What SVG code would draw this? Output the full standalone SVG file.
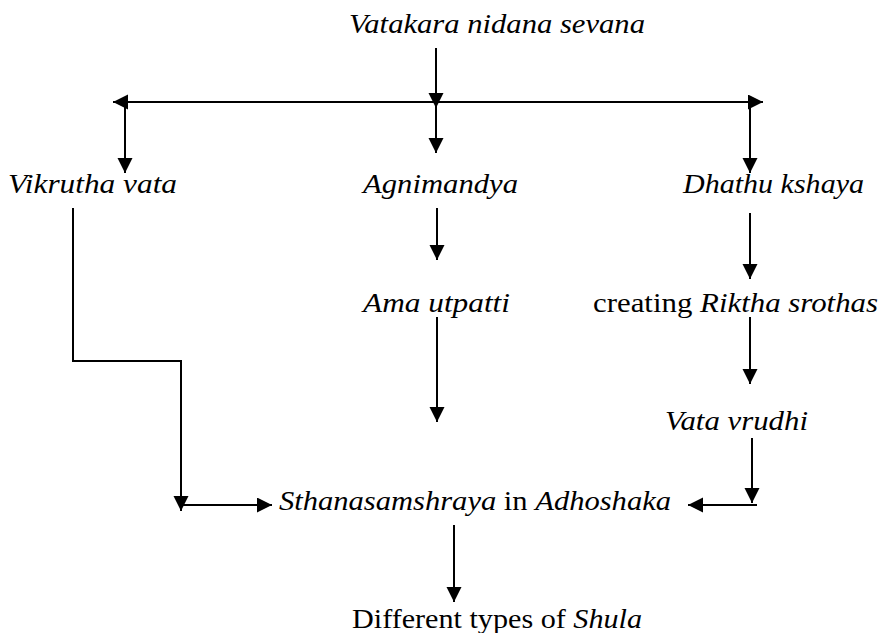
<svg xmlns="http://www.w3.org/2000/svg" width="882" height="633" viewBox="0 0 882 633">
<style>
text{font-family:"Liberation Serif","DejaVu Serif",serif;font-size:28px;fill:#000}
.i{font-style:italic}
.c{fill:none;stroke:#000;stroke-width:2}
</style>
<defs>
<marker id="ah" markerUnits="userSpaceOnUse" markerWidth="16" markerHeight="16" refX="15" refY="7.5" orient="auto-start-reverse"><path d="M0,0 L15,7.5 L0,15 z" fill="#000"/></marker>
</defs>
<rect width="882" height="633" fill="#fff"/>
<g id="n1"><text class="i" x="349" y="33" textLength="296" lengthAdjust="spacingAndGlyphs">Vatakara nidana sevana</text></g>
<g id="n2"><text class="i" x="8" y="193" textLength="169" lengthAdjust="spacingAndGlyphs">Vikrutha vata</text></g>
<g id="n3"><text class="i" x="363" y="193" textLength="155" lengthAdjust="spacingAndGlyphs">Agnimandya</text></g>
<g id="n4"><text class="i" x="683" y="193" textLength="181" lengthAdjust="spacingAndGlyphs">Dhathu kshaya</text></g>
<g id="n5"><text class="i" x="363" y="312" textLength="147" lengthAdjust="spacingAndGlyphs">Ama utpatti</text></g>
<g id="n6"><text x="593" y="312" textLength="285" lengthAdjust="spacingAndGlyphs">creating <tspan class="i">Riktha srothas</tspan></text></g>
<g id="n7"><text class="i" x="665" y="430" textLength="143" lengthAdjust="spacingAndGlyphs">Vata vrudhi</text></g>
<g id="n8"><text x="279" y="510" textLength="392" lengthAdjust="spacingAndGlyphs"><tspan class="i">Sthanasamshraya</tspan> in <tspan class="i">Adhoshaka</tspan></text></g>
<g id="n9"><text x="352" y="628" textLength="290" lengthAdjust="spacingAndGlyphs">Different types of <tspan class="i">Shula</tspan></text></g>
<g id="connectors">
<path class="c" d="M436,48 V108" marker-end="url(#ah)"/>
<path class="c" d="M113,102 H763" marker-start="url(#ah)" marker-end="url(#ah)"/>
<path class="c" d="M125,102 V173" marker-end="url(#ah)"/>
<path class="c" d="M436,102 V153" marker-end="url(#ah)"/>
<path class="c" d="M750,102 V173" marker-end="url(#ah)"/>
<path class="c" d="M73,208 V361 H181 V511" marker-end="url(#ah)"/>
<path class="c" d="M181,505 H272" marker-end="url(#ah)"/>
<path class="c" d="M437,208 V260" marker-end="url(#ah)"/>
<path class="c" d="M437,317 V422" marker-end="url(#ah)"/>
<path class="c" d="M750,213 V279" marker-end="url(#ah)"/>
<path class="c" d="M750,317 V384" marker-end="url(#ah)"/>
<path class="c" d="M752,438 V503" marker-end="url(#ah)"/>
<path class="c" d="M757,505 H688" marker-end="url(#ah)"/>
<path class="c" d="M454,525 V602" marker-end="url(#ah)"/>
</g>
</svg>
